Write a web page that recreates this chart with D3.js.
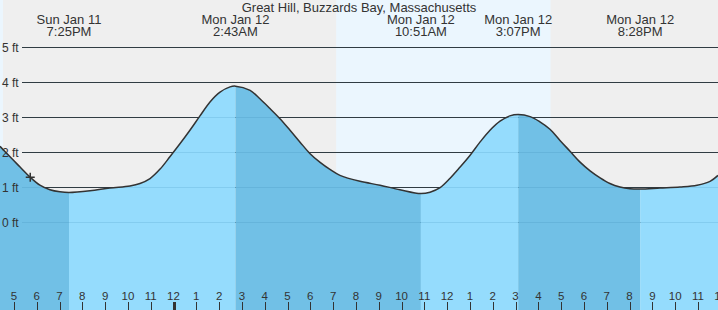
<!DOCTYPE html>
<html>
<head>
<meta charset="utf-8">
<script src="https://cdn.jsdelivr.net/npm/d3@7"></script>
<style>
  body { margin: 0; background: #fff; }
  svg text { font-family: "Liberation Sans", Arial, sans-serif; fill: #333; }
</style>
</head>
<body>
<div id="chart"></div>
<script>
// hours from Mon Jan 12 00:00, tide height in feet
const tideHours = [-7.61, -7.17, -6.73, -6.29, -5.86, -5.42, -4.98, -4.58, -3.66, -2.79,
  -1.91, -1.47, -1.03, -0.59, -0.15, 0.29, 0.72, 1.16, 1.60, 2.04, 2.48, 2.72,
  3.36, 3.79, 4.23, 4.67, 5.11, 5.55, 5.99, 6.43, 6.86, 7.30, 8.18, 9.06, 9.93,
  10.85, 11.25, 11.69, 12.13, 12.57, 13.00, 13.44, 13.88, 14.32, 14.75, 15.12,
  15.64, 16.07, 16.51, 16.95, 17.39, 17.83, 18.27, 18.71, 19.14, 19.58, 20.02,
  20.47, 21.34, 22.21, 22.96, 23.53, 23.88];
const tideFeet = [2.17, 1.87, 1.58, 1.29, 1.06, 0.93, 0.87, 0.85, 0.90, 0.98,
  1.04, 1.11, 1.25, 1.52, 1.88, 2.25, 2.63, 3.04, 3.44, 3.72, 3.87, 3.89,
  3.77, 3.53, 3.25, 2.96, 2.63, 2.29, 1.96, 1.71, 1.51, 1.34, 1.17, 1.06, 0.93,
  0.82, 0.86, 0.99, 1.26, 1.58, 1.91, 2.29, 2.63, 2.89, 3.04, 3.08,
  3.02, 2.87, 2.66, 2.34, 2.03, 1.72, 1.47, 1.27, 1.11, 1.01, 0.96,
  0.95, 0.98, 1.01, 1.06, 1.17, 1.34];

// high / low tides
const extremeTimes = ["2026-01-11T19:25", "2026-01-12T02:43", "2026-01-12T10:51", "2026-01-12T15:07", "2026-01-12T20:28"];
const extremeFeet = [0.85, 3.89, 0.82, 3.08, 0.95];

// daylight spans (sunrise -> sunset)
const dayStarts = ["2026-01-11T12:00", "2026-01-12T07:08"];
const dayEnds = ["2026-01-11T16:31", "2026-01-12T16:32"];

const feetTicks = [0, 1, 2, 3, 4, 5];
const nowTime = "2026-01-11T17:43";
const title = "Great Hill, Buzzards Bay, Massachusetts";

const width = 718, height = 310;
const base = new Date(2026, 0, 12, 0, 0);
const hourToDate = h => new Date(base.getTime() + h * 3600e3);
const parse = d3.timeParse("%Y-%m-%dT%H:%M");

const data = tideHours.map((h, i) => ({t: hourToDate(h), v: tideFeet[i]}));

const x = d3.scaleTime()
    .domain([hourToDate(-7.61), hourToDate(23.88)])
    .range([0, width]);
const y = d3.scaleLinear()
    .domain([0, 5])
    .range([222.3, 47.3]);

const svg = d3.select("#chart").append("svg")
    .attr("width", width)
    .attr("height", height);

svg.append("rect")
    .attr("width", width).attr("height", height)
    .attr("fill", "#efefef");

// daylight
svg.selectAll(".day")
    .data(dayStarts.map((s, i) => [parse(s), parse(dayEnds[i])]))
    .enter().append("rect")
    .attr("x", d => Math.max(0, x(d[0])))
    .attr("y", 0)
    .attr("width", d => x(d[1]) - Math.max(0, x(d[0])))
    .attr("height", height)
    .attr("fill", "#ebf6fe");

// grid lines (dark, above the water)
svg.selectAll(".grid")
    .data(feetTicks)
    .enter().append("line")
    .attr("x1", 22).attr("x2", width)
    .attr("y1", d => Math.round(y(d)) + 0.5)
    .attr("y2", d => Math.round(y(d)) + 0.5)
    .attr("stroke", "#333")
    .attr("stroke-width", 1);

const curve = d3.curveCatmullRom.alpha(0.5);

// water fill, split at each high / low
const area = d3.area()
    .x(d => x(d.t))
    .y0(height)
    .y1(d => y(d.v))
    .curve(curve);

const bounds = [x.domain()[0]].concat(extremeTimes.map(parse), [x.domain()[1]]);
const defs = svg.append("defs");
for (let i = 0; i < bounds.length - 1; i++) {
    // falling when the segment ends at a low tide
    let falling;
    if (i < extremeFeet.length) falling = extremeFeet[i] < 2;
    else falling = extremeFeet[extremeFeet.length - 1] > 2;

    defs.append("clipPath").attr("id", "seg" + i)
        .append("rect")
        .attr("x", x(bounds[i]))
        .attr("y", 0)
        .attr("width", x(bounds[i + 1]) - x(bounds[i]))
        .attr("height", height);

    svg.append("path")
        .datum(data)
        .attr("clip-path", "url(#seg" + i + ")")
        .attr("d", area)
        .attr("fill", falling ? "#71c0e6" : "#95dcfd");
}

// faint grid lines seen through the water
svg.selectAll(".gridw")
    .data(feetTicks)
    .enter().append("line")
    .attr("x1", 22).attr("x2", width)
    .attr("y1", d => Math.round(y(d)) + 0.5)
    .attr("y2", d => Math.round(y(d)) + 0.5)
    .attr("stroke", "#1f6f9e")
    .attr("stroke-opacity", 0.15);

// tide curve
svg.append("path")
    .datum(data)
    .attr("fill", "none")
    .attr("stroke", "#333")
    .attr("stroke-width", 1.5)
    .attr("d", d3.line().x(d => x(d.t)).y(d => y(d.v)).curve(curve));

// y labels
svg.selectAll(".ylab")
    .data(feetTicks)
    .enter().append("text")
    .attr("x", 2)
    .attr("y", d => y(d))
    .attr("dy", "0.35em")
    .style("font-size", "12px")
    .text(d => d + " ft");

// title
svg.append("text")
    .attr("x", 359).attr("y", 12)
    .attr("text-anchor", "middle")
    .style("font-size", "13px")
    .text(title);

// high / low labels
const fmtDay = d3.timeFormat("%a %b %d");
const fmtTime = d3.timeFormat("%-I:%M%p");
extremeTimes.map(parse).forEach(t => {
    const g = svg.append("text")
        .attr("text-anchor", "middle")
        .style("font-size", "13px");
    g.append("tspan").attr("x", x(t)).attr("y", 24).text(fmtDay(t));
    g.append("tspan").attr("x", x(t)).attr("y", 36).text(fmtTime(t));
});

// hour ticks along the bottom
const hours = d3.timeHour.range(x.domain()[0], d3.timeHour.offset(x.domain()[1], 1));
const fmtHour = d3.timeFormat("%-I");
const ticks = svg.append("g");
ticks.selectAll("line")
    .data(hours)
    .enter().append("line")
    .attr("x1", d => Math.round(x(d)) + 0.5)
    .attr("x2", d => Math.round(x(d)) + 0.5)
    .attr("y1", 302).attr("y2", height)
    .attr("stroke", "#333")
    .attr("stroke-width", d => d.getHours() === 0 ? 3 : 1);
ticks.selectAll("text")
    .data(hours)
    .enter().append("text")
    .attr("x", d => x(d))
    .attr("y", 300)
    .attr("text-anchor", "middle")
    .style("font-size", "11.5px")
    .text(d => fmtHour(d));

// current time marker
const now = parse(nowTime);
const nowVal = d3.scaleLinear().domain(tideHours.map(hourToDate)).range(tideFeet)(now);
svg.append("path")
    .attr("d", `M${x(now) - 4.5},${y(nowVal)}h9M${x(now)},${y(nowVal) - 4.5}v9`)
    .attr("stroke", "#333")
    .attr("stroke-width", 1.5)
    .attr("fill", "none");
</script>
</body>
</html>
